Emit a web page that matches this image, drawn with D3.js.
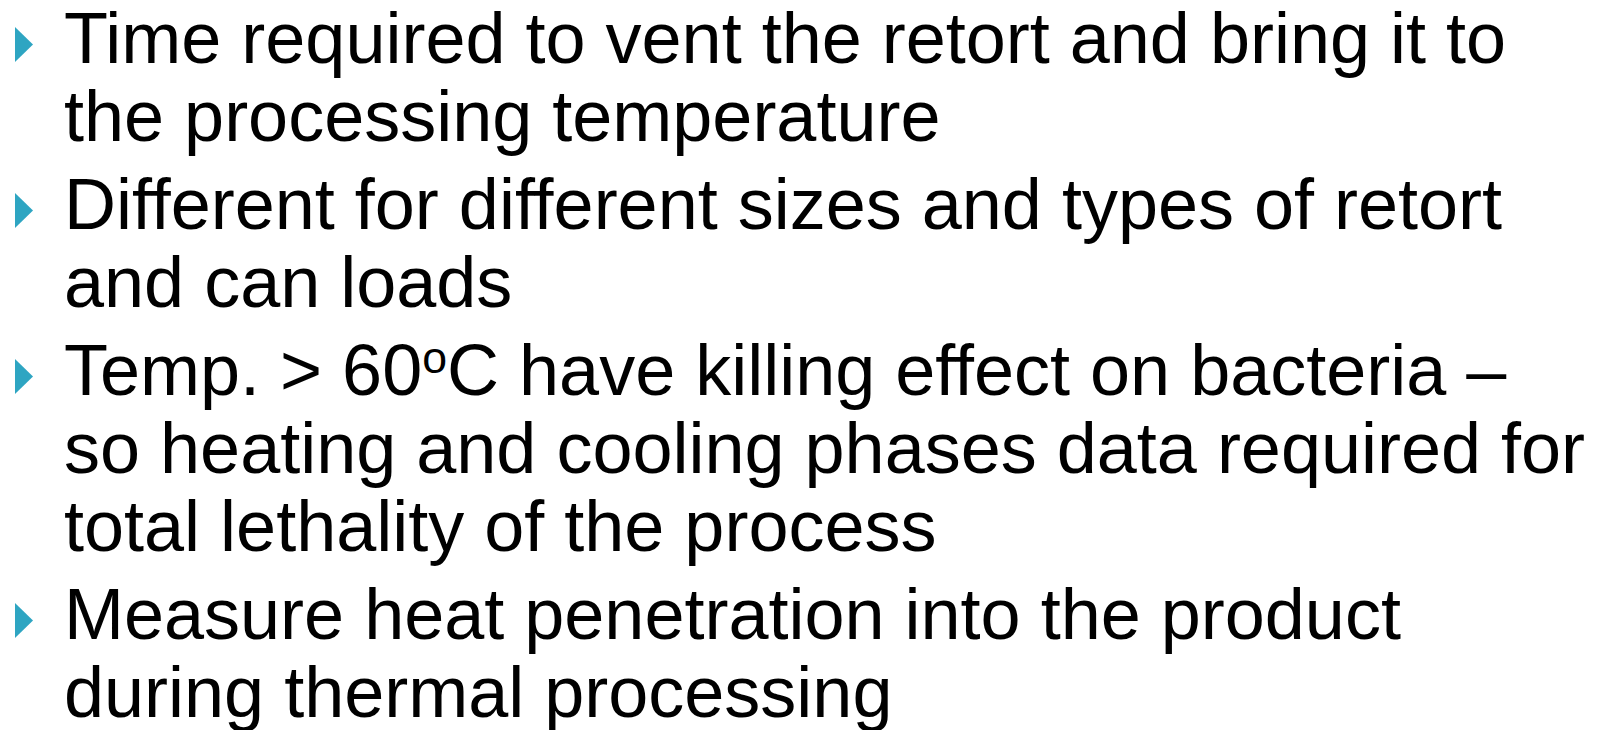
<!DOCTYPE html>
<html>
<head>
<meta charset="utf-8">
<script src="https://cdn.jsdelivr.net/npm/d3@7"></script>
<style>
  html, body { margin: 0; padding: 0; background: #ffffff; }
  svg { display: block; }
</style>
</head>
<body>
<svg id="slide" width="1601" height="730"></svg>
<script>
// Slide content: one array of lines per bullet
const bullet1 = ["Time required to vent the retort and bring it to", "the processing temperature"];
const bullet2 = ["Different for different sizes and types of retort", "and can loads"];
const bullet3 = ["Temp. > 60|o|C have killing effect on bacteria \u2013", "so heating and cooling phases data required for", "total lethality of the process"];
const bullet4 = ["Measure heat penetration into the product", "during thermal processing"];
const bullets = [bullet1, bullet2, bullet3, bullet4];

const W = 1601, H = 730;
const fontSize = 72;
const firstBaseline = 63;
const lineStep = 78;
const paraGap = 10;
const textX = 64;
const markerColor = "#2ea5c2";

const svg = d3.select("#slide");
svg.append("rect").attr("width", W).attr("height", H).attr("fill", "#ffffff");

// compute line layout
const rows = [];
let y = firstBaseline;
bullets.forEach((lines, bi) => {
  lines.forEach((line, li) => {
    rows.push({ bullet: bi, first: li === 0, text: line, y: y });
    y += lineStep;
  });
  y += paraGap;
});

const g = svg.append("g");

// bullet markers (right-pointing triangles)
g.selectAll("path.marker")
  .data(rows.filter(r => r.first))
  .join("path")
  .attr("class", "marker")
  .attr("d", d => {
    const x0 = 15, x1 = 33, bottom = d.y - 1, top = d.y - 36;
    return `M${x0},${top}L${x1},${(top + bottom) / 2}L${x0},${bottom}Z`;
  })
  .attr("fill", markerColor);

// text lines; segments wrapped in |..| are superscripts
const texts = g.selectAll("text.line")
  .data(rows)
  .join("text")
  .attr("class", "line")
  .attr("x", textX)
  .attr("y", d => d.y)
  .attr("font-family", "'Liberation Sans', Arial, sans-serif")
  .attr("font-size", fontSize)
  .attr("fill", "#000000");

texts.each(function(d) {
  const parts = d.text.split("|");
  const t = d3.select(this);
  parts.forEach((p, i) => {
    if (!p) return;
    if (i % 2 === 1) {
      t.append("tspan").attr("font-size", fontSize * 0.62).attr("dy", -fontSize * 0.3).text(p);
    } else {
      const ts = t.append("tspan").text(p);
      if (i > 0) ts.attr("dy", fontSize * 0.3);
    }
  });
});
</script>
</body>
</html>
